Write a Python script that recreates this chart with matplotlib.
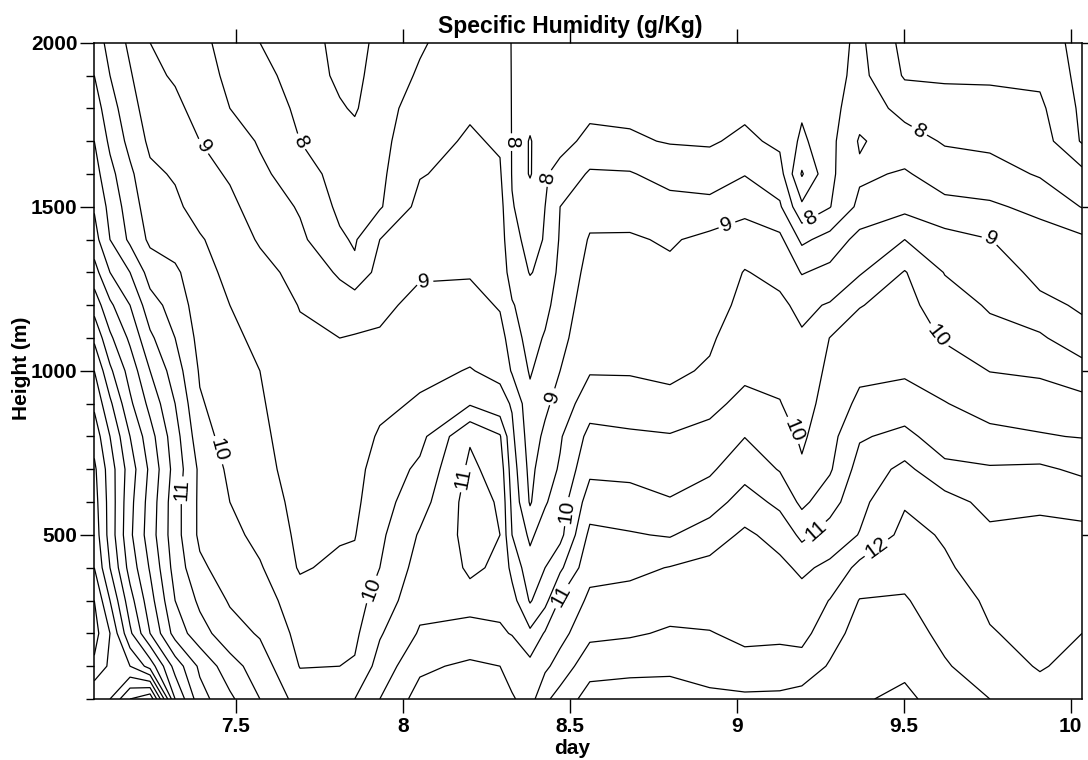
import numpy as np
import matplotlib
matplotlib.use("Agg")
import matplotlib.pyplot as plt
from matplotlib.ticker import MultipleLocator, FixedLocator

# ---------------- data ----------------
days = [7.076, 7.123, 7.183, 7.243, 7.318, 7.392, 7.482, 7.572, 7.692, 7.811,
        7.856, 7.931, 8.051, 8.201, 8.291, 8.327, 8.381, 8.426, 8.471, 8.560,
        8.680, 8.800, 8.919, 9.024, 9.129, 9.195, 9.279, 9.368, 9.503, 9.623,
        9.758, 9.908, 10.034]
heights_m = [0, 100, 200, 300, 400, 500, 600, 700, 800, 900, 1000,
             1100, 1200, 1300, 1400, 1500, 1600, 1700, 1800, 1900, 2000]

# specific humidity (g/kg) profiles, one per day, from 0 m up to 2000 m
q_7076 = [15.0, 15.9, 16.2, 16.0, 15.5, 15.3, 15.2, 15.1, 14.8, 14.4, 14.0, 13.4, 12.8, 12.2, 11.7, 11.45, 11.2, 11.0, 10.75, 10.5, 10.25]
q_7123 = [15.5, 15.4, 15.5, 15.0, 14.5, 14.3, 14.3, 14.25, 14.0, 13.6, 13.1, 12.6, 12.1, 11.5, 11.0, 10.85, 10.65, 10.4, 10.2, 10.0, 9.85]
q_7183 = [16.5, 15.0, 14.1, 13.7, 13.3, 13.1, 13.15, 13.25, 13.0, 12.6, 12.3, 11.9, 11.5, 11.0, 10.4, 10.25, 10.1, 9.85, 9.7, 9.55, 9.4]
q_7243 = [16.9, 14.3, 13.0, 12.7, 12.45, 12.25, 12.3, 12.4, 12.2, 11.85, 11.5, 11.1, 10.7, 10.3, 9.9, 9.75, 9.6, 9.4, 9.25, 9.1, 9.0]
q_7318 = [13.5, 12.8, 11.8, 11.5, 11.3, 11.2, 11.2, 11.3, 11.2, 11.0, 10.75, 10.5, 10.3, 10.1, 9.75, 9.6, 9.45, 9.25, 9.1, 8.95, 8.8]
q_7392 = [12.2, 11.9, 11.2, 10.9, 10.6, 10.4, 10.4, 10.4, 10.2, 10.05, 9.95, 9.85, 9.75, 9.65, 9.55, 9.3, 9.15, 9.0, 8.85, 8.7, 8.6]
q_7482 = [11.6, 11.2, 10.7, 10.45, 10.25, 10.15, 10.0, 9.9, 9.8, 9.75, 9.7, 9.6, 9.5, 9.4, 9.25, 9.1, 8.95, 8.75, 8.5, 8.4, 8.35]
q_7572 = [11.0, 10.75, 10.45, 10.25, 10.05, 9.85, 9.75, 9.65, 9.6, 9.55, 9.5, 9.4, 9.3, 9.15, 8.95, 8.8, 8.6, 8.45, 8.3, 8.15, 8.0]
q_7692 = [10.3, 9.98, 9.85, 9.7, 9.45, 9.4, 9.35, 9.3, 9.25, 9.2, 9.15, 9.08, 8.98, 8.85, 8.6, 8.45, 8.25, 8.0, 7.9, 7.8, 7.75]
q_7811 = [10.4, 10.0, 9.9, 9.8, 9.6, 9.45, 9.35, 9.3, 9.25, 9.15, 9.08, 9.0, 8.75, 8.43, 8.07, 7.9, 7.8, 7.7, 7.55, 7.4, 7.35]
q_7856 = [10.5, 10.05, 9.9, 9.8, 9.6, 9.48, 9.4, 9.35, 9.3, 9.2, 9.1, 9.02, 8.85, 8.1, 7.95, 7.9, 7.8, 7.65, 7.45, 7.35, 7.3]
q_7931 = [11.0, 10.7, 10.45, 10.2, 10.0, 9.9, 9.8, 9.7, 9.55, 9.4, 9.25, 9.05, 8.9, 8.7, 8.5, 7.95, 7.9, 7.85, 7.8, 7.75, 7.65]
q_8051 = [11.7, 11.4, 11.05, 10.85, 10.7, 10.55, 10.3, 10.1, 9.85, 9.55, 9.4, 9.3, 9.12, 8.95, 8.8, 8.65, 8.47, 8.35, 8.22, 8.05, 7.95]
q_8201 = [11.85, 11.6, 11.1, 10.9, 11.05, 11.15, 11.2, 11.1, 10.95, 9.95, 9.52, 9.35, 9.2, 8.95, 8.85, 8.75, 8.65, 8.55, 8.45, 8.35, 8.25]
q_8291 = [11.7, 11.5, 11.05, 10.9, 10.95, 11.0, 10.95, 10.8, 10.55, 9.65, 9.4, 9.2, 8.95, 8.85, 8.75, 8.67, 8.55, 8.45, 8.35, 8.28, 8.22]
q_8327 = [11.55, 11.3, 10.98, 10.7, 10.35, 10.0, 9.88, 9.75, 9.6, 9.46, 8.95, 8.75, 8.55, 8.25, 8.1, 8.02, 7.98, 7.98, 7.98, 7.98, 7.98]
q_8381 = [11.3, 11.15, 10.6, 9.95, 9.7, 9.4, 8.95, 8.85, 8.75, 8.65, 8.45, 8.3, 8.2, 7.98, 7.9, 7.85, 7.45, 7.45, 7.75, 7.8, 7.85]
q_8426 = [11.9, 11.4, 11.05, 10.35, 10.0, 9.75, 9.45, 9.3, 9.1, 8.9, 8.75, 8.55, 8.35, 8.1, 8.02, 8.0, 7.97, 7.9, 7.85, 7.85, 7.85]
q_8471 = [12.2, 11.7, 11.33, 11.06, 10.4, 9.85, 9.75, 9.55, 9.45, 9.2, 9.0, 8.85, 8.75, 8.65, 8.55, 8.5, 8.1, 7.9, 7.85, 7.85, 7.85]
q_8560 = [12.7, 12.32, 11.88, 11.6, 11.35, 11.12, 10.75, 10.39, 10.14, 9.79, 9.46, 9.36, 9.25, 9.15, 9.04, 8.84, 8.57, 8.08, 7.93, 7.88, 7.85]
q_8680 = [12.7, 12.39, 11.94, 11.68, 11.38, 11.04, 10.69, 10.37, 10.08, 9.73, 9.46, 9.35, 9.25, 9.15, 9.05, 8.82, 8.54, 8.06, 7.9, 7.87, 7.85]
q_8800 = [12.7, 12.41, 12.06, 11.78, 11.52, 10.96, 10.54, 10.28, 10.04, 9.61, 9.42, 9.31, 9.2, 9.09, 8.95, 8.7, 8.3, 7.97, 7.9, 7.87, 7.85]
q_8919 = [12.6, 12.31, 12.02, 11.81, 11.63, 11.28, 10.75, 10.43, 10.17, 9.85, 9.55, 9.44, 9.34, 9.23, 9.12, 8.66, 8.23, 7.95, 7.9, 7.87, 7.85]
q_9024 = [12.6, 12.13, 11.91, 11.8, 11.69, 11.58, 11.24, 10.79, 10.49, 10.16, 9.87, 9.75, 9.6, 9.52, 9.3, 8.83, 8.48, 8.1, 7.9, 7.87, 7.85]
q_9129 = [12.6, 12.2, 11.9, 11.75, 11.6, 11.35, 10.87, 10.47, 10.25, 10.02, 9.87, 9.73, 9.58, 9.39, 9.12, 8.57, 8.2, 7.9, 7.88, 7.86, 7.85]
q_9195 = [12.7, 12.2, 11.85, 11.66, 11.42, 10.88, 10.39, 10.07, 9.92, 9.78, 9.66, 9.55, 9.4, 8.97, 8.4, 7.6, 6.95, 7.4, 7.58, 7.7, 7.8]
q_9279 = [12.8, 12.55, 12.29, 12.02, 11.6, 11.23, 10.79, 10.44, 10.33, 10.22, 10.12, 10.01, 9.54, 9.14, 8.68, 7.98, 7.9, 7.85, 7.82, 7.8, 7.8]
q_9368 = [12.95, 12.85, 12.7, 12.52, 12.15, 11.52, 11.37, 11.2, 10.95, 10.6, 10.4, 10.2, 9.98, 9.45, 9.17, 8.62, 8.42, 8.55, 8.3, 8.15, 8.1]
q_9503 = [13.1, 12.9, 12.72, 12.54, 12.34, 12.15, 11.95, 11.63, 11.13, 10.72, 10.43, 10.3, 10.17, 10.03, 9.5, 8.86, 8.55, 8.23, 7.83, 7.45, 7.35]
q_9623 = [12.8, 12.55, 12.37, 12.25, 12.07, 11.95, 11.7, 11.12, 10.75, 10.52, 10.25, 9.95, 9.72, 9.48, 9.19, 8.63, 8.28, 7.95, 7.65, 7.45, 7.3]
q_9758 = [12.5, 12.23, 12.03, 11.92, 11.77, 11.6, 11.35, 11.05, 10.63, 10.3, 9.99, 9.65, 9.45, 9.3, 9.01, 8.57, 8.21, 7.88, 7.67, 7.43, 7.3]
q_9908 = [12.2, 11.96, 11.87, 11.75, 11.63, 11.53, 11.48, 11.09, 10.53, 10.3, 9.91, 9.58, 9.12, 8.85, 8.7, 8.38, 7.95, 7.76, 7.6, 7.4, 7.3]
q_10034 = [12.3, 12.15, 12.0, 11.82, 11.68, 11.6, 11.36, 10.9, 10.48, 10.15, 9.73, 9.15, 8.94, 8.76, 8.6, 7.98, 7.65, 6.95, 6.9, 6.85, 6.8]

profiles = [q_7076, q_7123, q_7183, q_7243, q_7318, q_7392, q_7482, q_7572,
            q_7692, q_7811, q_7856, q_7931, q_8051, q_8201, q_8291, q_8327,
            q_8381, q_8426, q_8471, q_8560, q_8680, q_8800, q_8919, q_9024,
            q_9129, q_9195, q_9279, q_9368, q_9503, q_9623, q_9758, q_9908,
            q_10034]

whole_levels = [7, 8, 9, 10, 11, 12, 13, 14, 15, 16, 17]
half_levels = [7.5, 8.5, 9.5, 10.5, 11.5, 12.5, 13.5, 14.5, 15.5, 16.5]
x_ticks = [7.5, 8, 8.5, 9, 9.5, 10]
x_tick_labels = ["7.5", "8", "8.5", "9", "9.5", "10"]
y_ticks = [500, 1000, 1500, 2000]

# contour label anchor points (day, height)
label_spots = [(7.408, 1688), (7.701, 1703), (8.330, 1697), (8.440, 1587),
               (8.066, 1255), (8.431, 926), (8.955, 1490), (9.219, 1469),
               (9.548, 1734), (9.758, 1399), (9.623, 1118), (9.159, 814),
               (7.429, 753), (7.324, 637), (8.204, 667), (8.449, 576),
               (8.470, 317), (7.911, 332), (9.234, 515), (9.434, 439)]

# ---------------- figure ----------------
FONT = ["Liberation Sans", "DejaVu Sans"]
plt.rcParams["font.family"] = FONT

fig = plt.figure(figsize=(10.88, 7.6), dpi=100)
ax = fig.add_axes([94.3 / 1088, 61 / 760, (1082 - 94.3) / 1088, (699 - 42.7) / 760])

Z = np.column_stack(profiles)
X, Y = np.meshgrid(days, heights_m)
ax.contour(X, Y, Z, levels=half_levels, colors="black", linewidths=0.9)
cs_whole = ax.contour(X, Y, Z, levels=whole_levels, colors="black", linewidths=0.9)
ax.clabel(cs_whole, manual=label_spots, inline=True, inline_spacing=3,
          fmt=lambda v: f"{v:g}", fontsize=15, colors="black")

ax.set_xlim(days[0], days[-1])
ax.set_ylim(0, 2000)

ax.xaxis.set_major_locator(FixedLocator(x_ticks))
ax.set_xticklabels(x_tick_labels)
ax.yaxis.set_major_locator(FixedLocator(y_ticks))
ax.yaxis.set_minor_locator(MultipleLocator(100))

ax.tick_params(axis="x", which="major", direction="out", length=10, width=1,
               top=True, labeltop=False, pad=3)
ax.tick_params(axis="y", which="major", direction="out", length=10, width=1,
               right=True, labelright=False, pad=2)
ax.tick_params(axis="y", which="minor", direction="out", length=6, width=1,
               right=False)
for lab in ax.get_xticklabels() + ax.get_yticklabels():
    lab.set_fontweight("bold")
    lab.set_fontsize(15)

for sp in ax.spines.values():
    sp.set_linewidth(1.1)

fig.text(570 / 1088, 1 - 27 / 760, "Specific Humidity (g/Kg)", ha="center",
         va="center", fontsize=16.5, fontweight="bold")
fig.text(572 / 1088, 1 - 748 / 760, "day", ha="center", va="center",
         fontsize=15, fontweight="bold")
fig.text(22 / 1088, 1 - 368 / 760, "Height (m)", ha="center", va="center",
         rotation=90, fontsize=15, fontweight="bold")

fig.savefig("out.png", dpi=100)
